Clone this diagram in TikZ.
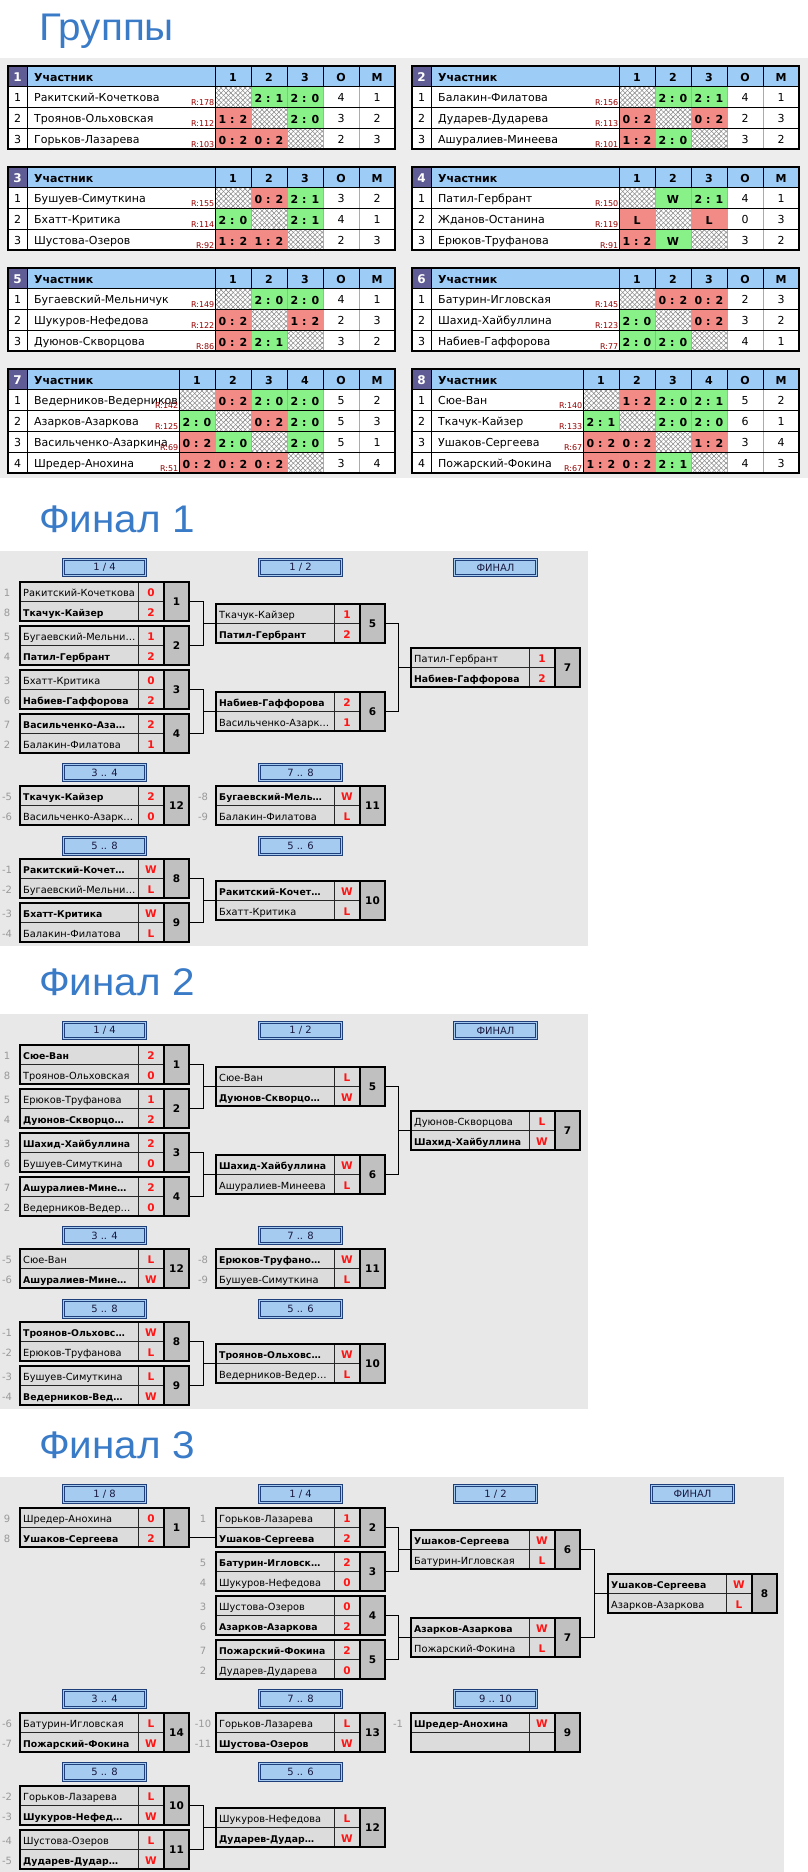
\documentclass[tikz,border=0pt]{standalone}
\usepackage{fontspec}
\setmainfont{DejaVu Sans}
\newfontfamily\titlefont[FakeStretch=1.05]{Liberation Sans}
\usetikzlibrary{patterns.meta}
\definecolor{titleblue}{HTML}{3A7BC8}
\definecolor{bggray}{HTML}{EDEDED}
\definecolor{fbg}{HTML}{E8E8E8}
\definecolor{hdrblue}{HTML}{9DCCF7}
\definecolor{hnum}{HTML}{5F5B94}
\definecolor{wgreen}{HTML}{88F288}
\definecolor{lred}{HTML}{F28A86}
\definecolor{rcol}{HTML}{990000}
\definecolor{rowg}{HTML}{DCDCDC}
\definecolor{numg}{HTML}{C0C0C0}
\definecolor{rndblue}{HTML}{A6CBF0}
\definecolor{rndline}{HTML}{1F3F7A}
\definecolor{rndtext}{HTML}{1A1A40}
\definecolor{seedg}{HTML}{999999}
\definecolor{scred}{HTML}{FF1414}
\definecolor{gridgray}{HTML}{ABABAB}
\definecolor{xgray}{HTML}{8A8A8A}
\newlength{\rwlen}
\tikzset{
  ttl/.style={anchor=base west, inner sep=0pt, text=titleblue, font=\titlefont\fontsize{38.5}{40}\selectfont},
  gtxt/.style={anchor=base, inner sep=0pt, font=\fontsize{11}{13}\selectfont},
  gname/.style={anchor=base west, inner sep=0pt, font=\fontsize{11}{13}\selectfont},
  ghead/.style={anchor=base, inner sep=0pt, font=\bfseries\fontsize{11}{13}\selectfont},
  ghnum/.style={anchor=base, inner sep=0pt, text=white, font=\bfseries\fontsize{12}{14}\selectfont},
  grat/.style={anchor=base east, inner sep=0pt, text=rcol, font=\fontsize{8}{9}\selectfont},
  gscore/.style={anchor=base, inner sep=0pt, font=\bfseries\fontsize{11}{13}\selectfont},
  glb/.style={black, line width=0.9pt},
  glg/.style={gridgray, line width=0.9pt},
  gbd/.style={black, line width=1.4pt},
  mbox/.style={inner sep=0pt, minimum width=169pt, minimum height=39pt},
  mname/.style={anchor=base west, inner sep=0pt, font=\fontsize{9.8}{12}\selectfont},
  msc/.style={anchor=base, inner sep=0pt, text=scred, font=\bfseries\fontsize{10.5}{12}\selectfont},
  mnum/.style={inner sep=0pt, font=\bfseries\fontsize{10.5}{12}\selectfont},
  mthin/.style={line width=0.9pt, black!85},
  mthick/.style={line width=2pt, black},
  seed/.style={anchor=base, inner sep=0pt, text=seedg, font=\fontsize{10}{12}\selectfont},
  rnd/.style={inner sep=0pt, minimum width=82.5pt, minimum height=16.5pt, fill=rndblue, draw=rndline, line width=0.7pt, double=rndblue, double distance=1.2pt, text=rndtext, font=\fontsize{10}{12}\selectfont},
  conn/.style={line width=0.9pt, black},
}
\newcommand{\B}[1]{{\bfseries\fontsize{9.3}{12}\selectfont #1}}
% ---------- group tables ----------
\newcommand{\gtable}[5]{%
  \def\gid{#1}\def\gx{#2}\def\gy{#3}\def\gnc{#5}%
  \pgfmathsetmacro{\gnw}{296-36*#5}%
  \pgfmathsetmacro{\gcx}{#2+19+\gnw}%
  \fill[hdrblue] (#2,#3) rectangle ++(387,20);
  \fill[hnum] (#2,#3) rectangle ++(19,20);
  \node[ghnum] (#1hn) at ({#2+9.5},{#3+15}) {#4};
  \node[ghead,anchor=base west] (#1hp) at ({#2+26},{#3+15}) {Участник};
  \foreach \i in {1,...,#5}{\node[ghead] (#1h\i) at ({\gcx+36*\i-18},{#3+15}) {\i};}
  \node[ghead] (#1ho) at ({#2+333},{#3+15}) {О};
  \node[ghead] (#1hm) at ({#2+369},{#3+15}) {М};
}
\newcommand{\grow}[6]{%
  \pgfmathsetmacro{\ry}{\gy+20+21*(#1-1)}%
  \fill[white] (\gx,\ry) rectangle ++(387,21);
  \foreach \ctype/\ctext [count=\k] in {#4}{%
    \pgfmathsetmacro{\cx}{\gcx+36*(\k-1)}%
    \if X\ctype
      \path[pattern={Lines[angle=45,distance=3.4pt,line width=0.55pt]},pattern color=xgray] (\cx,\ry) rectangle ++(36,21);
      \path[pattern={Lines[angle=-45,distance=3.4pt,line width=0.55pt]},pattern color=xgray] (\cx,\ry) rectangle ++(36,21);
    \else\if G\ctype
      \fill[wgreen] (\cx,\ry) rectangle ++(36,21);
    \else
      \fill[lred] (\cx,\ry) rectangle ++(36,21);
    \fi\fi
    \node[gscore] (\gid r#1c\k) at ({\cx+18},{\ry+16}) {\ctext};
  }
  \node[gtxt] (\gid r#1n) at ({\gx+9.5},{\ry+15.5}) {#1};
  \settowidth{\rwlen}{\fontsize{8}{9}\selectfont #3}%
  \pgfmathsetmacro{\clipw}{\gnw-\rwlen-1.5}%
  \begin{scope}
    \clip ({\gx+19},\ry) rectangle ++(\clipw,21);
    \node[gname] (\gid r#1nm) at ({\gx+26},{\ry+15.5}) {#2};
  \end{scope}
  \node[grat] (\gid r#1rt) at ({\gx+18.5+\gnw},{\ry+19.5}) {#3};
  \node[gtxt] (\gid r#1o) at ({\gx+333},{\ry+15.5}) {#5};
  \node[gtxt] (\gid r#1m) at ({\gx+369},{\ry+15.5}) {#6};
}
\newcommand{\gend}[1]{%
  \pgfmathsetmacro{\gbot}{\gy+20+21*#1}%
  \pgfmathtruncatemacro{\gncm}{\gnc-1}%
  \foreach \k in {1,...,\gncm}{%
    \draw[glg] ({\gcx+36*\k},{\gy+20}) -- ({\gcx+36*\k},\gbot);
    \draw[glb] ({\gcx+36*\k},\gy) -- ++(0,20);}
  \foreach \xx in {315,351}{%
    \draw[glg] ({\gx+\xx},{\gy+20}) -- ({\gx+\xx},\gbot);
    \draw[glb] ({\gx+\xx},\gy) -- ++(0,20);}
  \draw[glb] ({\gx+19},\gy) -- ({\gx+19},\gbot);
  \draw[glb] (\gcx,\gy) -- (\gcx,\gbot);
  \foreach \k in {0,...,#1}{\draw[glb] (\gx,{\gy+20+21*\k}) -- ++(387,0);}
  \draw[gbd] (\gx,\gy) rectangle ({\gx+387},\gbot);
}
% ---------- brackets ----------
\newcommand{\mt}[8]{%
  \node[mbox] (#1) at ({#2+84.5},{#3+19.5}) {};
  \fill[rowg] (#2,#3) rectangle ++(144,39);
  \fill[numg] ({#2+144},#3) rectangle ++(25,39);
  \draw[mthin] (#2,{#3+19.5}) -- ++(144,0);
  \draw[mthin] ({#2+118},#3) -- ++(0,39);
  \draw[mthick] ({#2+144},#3) -- ++(0,39);
  \draw[mthick] (#2,#3) rectangle ++(169,39);
  \node[mname] (#1a) at ({#2+3},{#3+14.5}) {#4};
  \node[msc] (#1as) at ({#2+131},{#3+14.5}) {#5};
  \node[mname] (#1b) at ({#2+3},{#3+34}) {#6};
  \node[msc] (#1bs) at ({#2+131},{#3+34}) {#7};
  \node[mnum] (#1n) at ({#2+156.5},{#3+19.5}) {#8};
}
\newcommand{\rh}[4]{\node[rnd] (#1) at ({#2+84.5},{#3+9.5}) {#4};}
\newcommand{\sdd}[5]{%
  \node[seed] (#1a) at ({#2-13},{#3+14.5}) {#4};
  \node[seed] (#1b) at ({#2-13},{#3+34}) {#5};}
\newcommand{\sdone}[4]{\node[seed] (#1) at ({#2-13},{#3+14.5}) {#4};}
\begin{document}
\begin{tikzpicture}[x=1pt,y=-1pt]
\useasboundingbox (0,0) rectangle (808,1872);
\fill[white] (0,0) rectangle (808,1872);
\fill[bggray] (0,58) rectangle (808,478);
\fill[fbg] (0,551) rectangle (588,946);
\fill[fbg] (0,1014) rectangle (588,1409);
\fill[fbg] (0,1477) rectangle (784,1872);
\node[ttl] (t0) at (39,40) {Группы};
\node[ttl] (t1) at (39,532.5) {Финал 1};
\node[ttl] (t2) at (39,995.5) {Финал 2};
\node[ttl] (t3) at (39,1458.5) {Финал 3};
% ===== groups =====
\gtable{ga}{8}{66}{1}{3}
\grow{1}{Ракитский-Кочеткова}{R:178}{X/{},G/2 : 1,G/2 : 0}{4}{1}
\grow{2}{Троянов-Ольховская}{R:112}{R/1 : 2,X/{},G/2 : 0}{3}{2}
\grow{3}{Горьков-Лазарева}{R:103}{R/0 : 2,R/0 : 2,X/{}}{2}{3}
\gend{3}
\gtable{gb}{412}{66}{2}{3}
\grow{1}{Балакин-Филатова}{R:156}{X/{},G/2 : 0,G/2 : 1}{4}{1}
\grow{2}{Дударев-Дударева}{R:113}{R/0 : 2,X/{},R/0 : 2}{2}{3}
\grow{3}{Ашуралиев-Минеева}{R:101}{R/1 : 2,G/2 : 0,X/{}}{3}{2}
\gend{3}
\gtable{gc}{8}{167}{3}{3}
\grow{1}{Бушуев-Симуткина}{R:155}{X/{},R/0 : 2,G/2 : 1}{3}{2}
\grow{2}{Бхатт-Критика}{R:114}{G/2 : 0,X/{},G/2 : 1}{4}{1}
\grow{3}{Шустова-Озеров}{R:92}{R/1 : 2,R/1 : 2,X/{}}{2}{3}
\gend{3}
\gtable{gd}{412}{167}{4}{3}
\grow{1}{Патил-Гербрант}{R:150}{X/{},G/W,G/2 : 1}{4}{1}
\grow{2}{Жданов-Останина}{R:119}{R/L,X/{},R/L}{0}{3}
\grow{3}{Ерюков-Труфанова}{R:91}{R/1 : 2,G/W,X/{}}{3}{2}
\gend{3}
\gtable{ge}{8}{268}{5}{3}
\grow{1}{Бугаевский-Мельничук}{R:149}{X/{},G/2 : 0,G/2 : 0}{4}{1}
\grow{2}{Шукуров-Нефедова}{R:122}{R/0 : 2,X/{},R/1 : 2}{2}{3}
\grow{3}{Дуюнов-Скворцова}{R:86}{R/0 : 2,G/2 : 1,X/{}}{3}{2}
\gend{3}
\gtable{gf}{412}{268}{6}{3}
\grow{1}{Батурин-Игловская}{R:145}{X/{},R/0 : 2,R/0 : 2}{2}{3}
\grow{2}{Шахид-Хайбуллина}{R:123}{G/2 : 0,X/{},R/0 : 2}{3}{2}
\grow{3}{Набиев-Гаффорова}{R:77}{G/2 : 0,G/2 : 0,X/{}}{4}{1}
\gend{3}
\gtable{gg}{8}{369}{7}{4}
\grow{1}{Ведерников-Ведерникова}{R:142}{X/{},R/0 : 2,G/2 : 0,G/2 : 0}{5}{2}
\grow{2}{Азарков-Азаркова}{R:125}{G/2 : 0,X/{},R/0 : 2,G/2 : 0}{5}{3}
\grow{3}{Васильченко-Азаркина}{R:69}{R/0 : 2,G/2 : 0,X/{},G/2 : 0}{5}{1}
\grow{4}{Шредер-Анохина}{R:51}{R/0 : 2,R/0 : 2,R/0 : 2,X/{}}{3}{4}
\gend{4}
\gtable{gh}{412}{369}{8}{4}
\grow{1}{Сюе-Ван}{R:140}{X/{},R/1 : 2,G/2 : 0,G/2 : 1}{5}{2}
\grow{2}{Ткачук-Кайзер}{R:133}{G/2 : 1,X/{},G/2 : 0,G/2 : 0}{6}{1}
\grow{3}{Ушаков-Сергеева}{R:67}{R/0 : 2,R/0 : 2,X/{},R/1 : 2}{3}{4}
\grow{4}{Пожарский-Фокина}{R:67}{R/1 : 2,R/0 : 2,G/2 : 1,X/{}}{4}{3}
\gend{4}
% ===== Final 1 =====
\rh{fah1}{20}{558}{1 / 4}
\rh{fah2}{216}{558}{1 / 2}
\rh{fah3}{411}{558}{ФИНАЛ}
\rh{fah4}{20}{763}{3 .. 4}
\rh{fah5}{216}{763}{7 .. 8}
\rh{fah6}{20}{836.5}{5 .. 8}
\rh{fah7}{216}{836.5}{5 .. 6}
\mt{fam1}{20}{582}{Ракитский-Кочеткова}{0}{\B{Ткачук-Кайзер}}{2}{1}
\mt{fam2}{20}{626}{Бугаевский-Мельни…}{1}{\B{Патил-Гербрант}}{2}{2}
\mt{fam3}{20}{670}{Бхатт-Критика}{0}{\B{Набиев-Гаффорова}}{2}{3}
\mt{fam4}{20}{714}{\B{Васильченко-Аза…}}{2}{Балакин-Филатова}{1}{4}
\mt{fam5}{216}{604}{Ткачук-Кайзер}{1}{\B{Патил-Гербрант}}{2}{5}
\mt{fam6}{216}{692}{\B{Набиев-Гаффорова}}{2}{Васильченко-Азарк…}{1}{6}
\mt{fam7}{411}{648}{Патил-Гербрант}{1}{\B{Набиев-Гаффорова}}{2}{7}
\mt{fam12}{20}{786}{\B{Ткачук-Кайзер}}{2}{Васильченко-Азарк…}{0}{12}
\mt{fam11}{216}{786}{\B{Бугаевский-Мель…}}{W}{Балакин-Филатова}{L}{11}
\mt{fam8}{20}{859}{\B{Ракитский-Кочет…}}{W}{Бугаевский-Мельни…}{L}{8}
\mt{fam9}{20}{903}{\B{Бхатт-Критика}}{W}{Балакин-Филатова}{L}{9}
\mt{fam10}{216}{881}{\B{Ракитский-Кочет…}}{W}{Бхатт-Критика}{L}{10}
\sdd{fas1}{20}{582}{1}{8}
\sdd{fas2}{20}{626}{5}{4}
\sdd{fas3}{20}{670}{3}{6}
\sdd{fas4}{20}{714}{7}{2}
\sdd{fas12}{20}{786}{-5}{-6}
\sdd{fas11}{216}{786}{-8}{-9}
\sdd{fas8}{20}{859}{-1}{-2}
\sdd{fas9}{20}{903}{-3}{-4}
\draw[conn] (fam1.east) -- ++(14,0) coordinate (fak1) |- (fam2.east);
\draw[conn] (fam5.west) -- (fam5.west -| fak1);
\draw[conn] (fam3.east) -- ++(14,0) coordinate (fak2) |- (fam4.east);
\draw[conn] (fam6.west) -- (fam6.west -| fak2);
\draw[conn] (fam5.east) -- ++(13,0) coordinate (fak3) |- (fam6.east);
\draw[conn] (fam7.west) -- (fam7.west -| fak3);
\draw[conn] (fam8.east) -- ++(14,0) coordinate (fak4) |- (fam9.east);
\draw[conn] (fam10.west) -- (fam10.west -| fak4);
% ===== Final 2 =====
\rh{fbh1}{20}{1021}{1 / 4}
\rh{fbh2}{216}{1021}{1 / 2}
\rh{fbh3}{411}{1021}{ФИНАЛ}
\rh{fbh4}{20}{1226}{3 .. 4}
\rh{fbh5}{216}{1226}{7 .. 8}
\rh{fbh6}{20}{1299.5}{5 .. 8}
\rh{fbh7}{216}{1299.5}{5 .. 6}
\mt{fbm1}{20}{1045}{\B{Сюе-Ван}}{2}{Троянов-Ольховская}{0}{1}
\mt{fbm2}{20}{1089}{Ерюков-Труфанова}{1}{\B{Дуюнов-Скворцо…}}{2}{2}
\mt{fbm3}{20}{1133}{\B{Шахид-Хайбуллина}}{2}{Бушуев-Симуткина}{0}{3}
\mt{fbm4}{20}{1177}{\B{Ашуралиев-Мине…}}{2}{Ведерников-Ведер…}{0}{4}
\mt{fbm5}{216}{1067}{Сюе-Ван}{L}{\B{Дуюнов-Скворцо…}}{W}{5}
\mt{fbm6}{216}{1155}{\B{Шахид-Хайбуллина}}{W}{Ашуралиев-Минеева}{L}{6}
\mt{fbm7}{411}{1111}{Дуюнов-Скворцова}{L}{\B{Шахид-Хайбуллина}}{W}{7}
\mt{fbm12}{20}{1249}{Сюе-Ван}{L}{\B{Ашуралиев-Мине…}}{W}{12}
\mt{fbm11}{216}{1249}{\B{Ерюков-Труфано…}}{W}{Бушуев-Симуткина}{L}{11}
\mt{fbm8}{20}{1322}{\B{Троянов-Ольховс…}}{W}{Ерюков-Труфанова}{L}{8}
\mt{fbm9}{20}{1366}{Бушуев-Симуткина}{L}{\B{Ведерников-Вед…}}{W}{9}
\mt{fbm10}{216}{1344}{\B{Троянов-Ольховс…}}{W}{Ведерников-Ведер…}{L}{10}
\sdd{fbs1}{20}{1045}{1}{8}
\sdd{fbs2}{20}{1089}{5}{4}
\sdd{fbs3}{20}{1133}{3}{6}
\sdd{fbs4}{20}{1177}{7}{2}
\sdd{fbs12}{20}{1249}{-5}{-6}
\sdd{fbs11}{216}{1249}{-8}{-9}
\sdd{fbs8}{20}{1322}{-1}{-2}
\sdd{fbs9}{20}{1366}{-3}{-4}
\draw[conn] (fbm1.east) -- ++(14,0) coordinate (fbk1) |- (fbm2.east);
\draw[conn] (fbm5.west) -- (fbm5.west -| fbk1);
\draw[conn] (fbm3.east) -- ++(14,0) coordinate (fbk2) |- (fbm4.east);
\draw[conn] (fbm6.west) -- (fbm6.west -| fbk2);
\draw[conn] (fbm5.east) -- ++(13,0) coordinate (fbk3) |- (fbm6.east);
\draw[conn] (fbm7.west) -- (fbm7.west -| fbk3);
\draw[conn] (fbm8.east) -- ++(14,0) coordinate (fbk4) |- (fbm9.east);
\draw[conn] (fbm10.west) -- (fbm10.west -| fbk4);
% ===== Final 3 =====
\rh{fch1}{20}{1484.5}{1 / 8}
\rh{fch2}{216}{1484.5}{1 / 4}
\rh{fch3}{411}{1484.5}{1 / 2}
\rh{fch4}{608}{1484.5}{ФИНАЛ}
\rh{fch5}{20}{1689.5}{3 .. 4}
\rh{fch6}{216}{1689.5}{7 .. 8}
\rh{fch7}{411}{1689.5}{9 .. 10}
\rh{fch8}{20}{1762.5}{5 .. 8}
\rh{fch9}{216}{1762.5}{5 .. 6}
\mt{fcm1}{20}{1508}{Шредер-Анохина}{0}{\B{Ушаков-Сергеева}}{2}{1}
\mt{fcm2}{216}{1508}{Горьков-Лазарева}{1}{\B{Ушаков-Сергеева}}{2}{2}
\mt{fcm3}{216}{1552}{\B{Батурин-Игловск…}}{2}{Шукуров-Нефедова}{0}{3}
\mt{fcm4}{216}{1596}{Шустова-Озеров}{0}{\B{Азарков-Азаркова}}{2}{4}
\mt{fcm5}{216}{1640}{\B{Пожарский-Фокина}}{2}{Дударев-Дударева}{0}{5}
\mt{fcm6}{411}{1530}{\B{Ушаков-Сергеева}}{W}{Батурин-Игловская}{L}{6}
\mt{fcm7}{411}{1618}{\B{Азарков-Азаркова}}{W}{Пожарский-Фокина}{L}{7}
\mt{fcm8}{608}{1574}{\B{Ушаков-Сергеева}}{W}{Азарков-Азаркова}{L}{8}
\mt{fcm14}{20}{1713}{Батурин-Игловская}{L}{\B{Пожарский-Фокина}}{W}{14}
\mt{fcm13}{216}{1713}{Горьков-Лазарева}{L}{\B{Шустова-Озеров}}{W}{13}
\mt{fcm9}{411}{1713}{\B{Шредер-Анохина}}{W}{}{}{9}
\mt{fcm10}{20}{1786}{Горьков-Лазарева}{L}{\B{Шукуров-Нефед…}}{W}{10}
\mt{fcm11}{20}{1830}{Шустова-Озеров}{L}{\B{Дударев-Дудар…}}{W}{11}
\mt{fcm12}{216}{1808}{Шукуров-Нефедова}{L}{\B{Дударев-Дудар…}}{W}{12}
\sdd{fcs1}{20}{1508}{9}{8}
\sdone{fcs2}{216}{1508}{1}
\sdd{fcs3}{216}{1552}{5}{4}
\sdd{fcs4}{216}{1596}{3}{6}
\sdd{fcs5}{216}{1640}{7}{2}
\sdd{fcs14}{20}{1713}{-6}{-7}
\sdd{fcs13}{216}{1713}{-10}{-11}
\sdone{fcs9}{411}{1713}{-1}
\sdd{fcs10}{20}{1786}{-2}{-3}
\sdd{fcs11}{20}{1830}{-4}{-5}
\draw[conn] ([yshift=-9.75pt]fcm1.east) -- ([yshift=-9.75pt]fcm2.west);
\draw[conn] (fcm2.east) -- ++(13,0) coordinate (fck1) |- (fcm3.east);
\draw[conn] (fcm6.west) -- (fcm6.west -| fck1);
\draw[conn] (fcm4.east) -- ++(13,0) coordinate (fck2) |- (fcm5.east);
\draw[conn] (fcm7.west) -- (fcm7.west -| fck2);
\draw[conn] (fcm6.east) -- ++(14,0) coordinate (fck3) |- (fcm7.east);
\draw[conn] (fcm8.west) -- (fcm8.west -| fck3);
\draw[conn] (fcm10.east) -- ++(14,0) coordinate (fck4) |- (fcm11.east);
\draw[conn] (fcm12.west) -- (fcm12.west -| fck4);
\end{tikzpicture}
\end{document}
